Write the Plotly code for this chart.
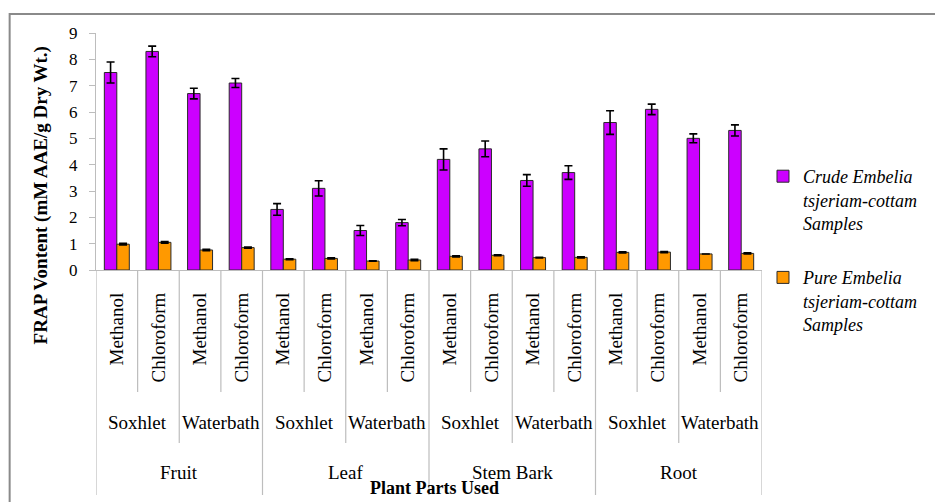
import plotly.graph_objects as go

# Sample layout: plant part -> extraction method -> solvent
plants = ["Fruit", "Leaf", "Stem Bark", "Root"]
methods = ["Soxhlet", "Waterbath"]
solvents = ["Methanol", "Chloroform"]

# FRAP values (mM AAE/g dry wt.) in plant/method/solvent order
crude = [7.5, 8.3, 6.7, 7.1, 2.3, 3.1, 1.5, 1.8, 4.2, 4.6, 3.4, 3.7, 5.6, 6.1, 5.0, 5.3]
crude_err = [0.4, 0.2, 0.2, 0.17, 0.22, 0.29, 0.19, 0.12, 0.4, 0.3, 0.22, 0.26, 0.45, 0.2, 0.17, 0.21]
pure = [0.98, 1.05, 0.76, 0.85, 0.41, 0.44, 0.34, 0.38, 0.52, 0.56, 0.47, 0.48, 0.67, 0.68, 0.61, 0.63]
pure_err = [0.03, 0.03, 0.03, 0.02, 0.02, 0.02, 0.01, 0.03, 0.02, 0.02, 0.01, 0.02, 0.02, 0.02, 0.0, 0.02]

y_ticks = [0, 1, 2, 3, 4, 5, 6, 7, 8, 9]

FONT = "Liberation Serif, Times New Roman, serif"
GRID = "#bdbdbd"

keys, tick_text = [], []
for p in plants:
    for m in methods:
        for s in solvents:
            keys.append(f"{p}|{m}|{s}")
            tick_text.append(s)

fig = go.Figure()
fig.add_trace(go.Bar(
    x=keys, y=crude, name="<i>Crude Embelia<br>tsjeriam-cottam<br>Samples</i>",
    marker=dict(color="#CC00FF", line=dict(color="#2a2a2a", width=1)),
    error_y=dict(type="data", array=crude_err, color="black", thickness=1.6, width=4),
    legendgroup="crude",
))
fig.add_trace(go.Bar(
    x=keys, y=pure, name="<i>Pure Embelia<br>tsjeriam-cottam<br>Samples</i>",
    marker=dict(color="#FF9900", line=dict(color="#2a2a2a", width=1)),
    error_y=dict(type="data", array=pure_err, color="black", thickness=1.6, width=4),
    legendgroup="pure",
))

# plot area in pixels: x 96..767, y 33..270
L, R, T, B = 96, 767, 33, 270
W, H = R - L, B - T


def px_x(px):
    return (px - L) / W


def px_y(py):
    return (B - py) / H


shapes = []
annotations = []
n = len(keys)

# separators under the category axis, three levels deep
for i in range(n + 1):
    if i % 4 == 0:
        bottom = 495
    elif i % 2 == 0:
        bottom = 443
    else:
        bottom = 392
    shapes.append(dict(type="line", xref="x", yref="paper", x0=i - 0.5, x1=i - 0.5,
                       y0=0, y1=px_y(bottom), line=dict(color=GRID, width=1.2)))

# method and plant-part labels
for pi, p in enumerate(plants):
    for mi, m in enumerate(methods):
        c = pi * 4 + mi * 2 + 0.5
        annotations.append(dict(x=c, y=px_y(422), xref="x", yref="paper", text=m,
                                showarrow=False, font=dict(family=FONT, size=19, color="black"),
                                xanchor="center", yanchor="middle"))
    annotations.append(dict(x=pi * 4 + 1.5, y=px_y(472), xref="x", yref="paper", text=p,
                            showarrow=False, font=dict(family=FONT, size=19, color="black"),
                            xanchor="center", yanchor="middle"))

annotations.append(dict(x=px_x(437), y=px_y(488), xref="paper", yref="paper",
                        text="<b>Plant Parts Used</b>", showarrow=False,
                        font=dict(family=FONT, size=18, color="black"),
                        xanchor="center", yanchor="middle"))
annotations.append(dict(x=px_x(41), y=px_y(195), xref="paper", yref="paper",
                        text="<b>FRAP Vontent (mM AAE/g Dry Wt.)</b>", showarrow=False,
                        textangle=-90, font=dict(family=FONT, size=19, color="black"),
                        xanchor="center", yanchor="middle"))

# chart frame
shapes.append(dict(type="rect", xref="paper", yref="paper",
                   x0=px_x(9), x1=px_x(945), y0=px_y(515), y1=px_y(14),
                   line=dict(color="#8a8a8a", width=2), fillcolor="rgba(0,0,0,0)"))

fig.update_layout(
    width=935, height=502,
    margin=dict(l=L, r=935 - R, t=T, b=502 - B, pad=0),
    paper_bgcolor="white", plot_bgcolor="white",
    barmode="group", bargap=0.4, bargroupgap=0,
    font=dict(family=FONT, size=17, color="black"),
    shapes=shapes, annotations=annotations,
    legend=dict(x=px_x(768), y=px_y(158), xanchor="left", yanchor="top",
                font=dict(family=FONT, size=18, color="black"),
                tracegroupgap=28, valign="top", bgcolor="rgba(0,0,0,0)"),
    xaxis=dict(type="category", tickvals=keys, ticktext=tick_text, tickangle=-90,
               showline=True, linecolor=GRID, linewidth=1.2, ticks="",
               showgrid=False, tickfont=dict(family=FONT, size=19, color="black"),
               ticklabelstandoff=14, range=[-0.5, n - 0.5]),
    yaxis=dict(range=[0, 9], tickvals=y_ticks, showline=True, linecolor=GRID, linewidth=1.2,
               ticks="outside", ticklen=6, tickcolor=GRID, tickwidth=1.2,
               showgrid=False, zeroline=False,
               tickfont=dict(family=FONT, size=17, color="black"), ticklabelstandoff=8),
)

fig.write_html("out.html")
